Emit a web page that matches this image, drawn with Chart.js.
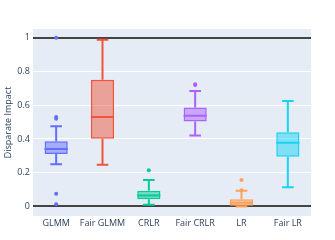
<!DOCTYPE html>
<html>
<head>
<meta charset="utf-8">
<script src="https://cdn.jsdelivr.net/npm/chart.js@4.4.0/dist/chart.umd.min.js"></script>
<style>
  html, body { margin: 0; padding: 0; background: #fff; }
  #wrap { width: 335px; height: 240px; }
</style>
</head>
<body>
<div id="wrap"><canvas id="chart"></canvas></div>
<script>
// box plot values
const categories = ['GLMM', 'Fair GLMM', 'CRLR', 'Fair CRLR', 'LR', 'Fair LR'];
const lowerWhisker = [0.25, 0.247, 0.01, 0.421, 0.0, 0.113];
const q1 = [0.31, 0.401, 0.042, 0.504, 0.004, 0.294];
const median = [0.34, 0.53, 0.065, 0.537, 0.022, 0.377];
const q3 = [0.387, 0.751, 0.093, 0.587, 0.042, 0.439];
const upperWhisker = [0.476, 0.988, 0.156, 0.684, 0.093, 0.625];
const outliers = [[1.0, 0.53, 0.52, 0.075, 0.012], [], [0.215], [0.724, 0.72], [0.156, 0.095], []];
const yTicks = [0, 0.2, 0.4, 0.6, 0.8, 1];

const colors = ['#636efa', '#EF553B', '#00cc96', '#ab63fa', '#FFA15A', '#19d3f3'];
const fills = ['rgba(99,110,250,0.5)', 'rgba(239,85,59,0.5)', 'rgba(0,204,150,0.5)',
  'rgba(171,99,250,0.5)', 'rgba(255,161,90,0.5)', 'rgba(25,211,243,0.5)'];

const FONT = "'Open Sans', 'DejaVu Sans', sans-serif";
const TXT = '#2a3f5f';

// points for outliers
const outlierPts = [];
const outlierCols = [];
outliers.forEach((arr, i) => {
  arr.forEach(v => {
    outlierPts.push({ x: categories[i], y: v });
    outlierCols.push(colors[i]);
  });
});

// plot background
const bgPlugin = {
  id: 'bg',
  beforeDraw(chart) {
    const { ctx, chartArea: a } = chart;
    ctx.save();
    ctx.fillStyle = '#E5ECF6';
    ctx.fillRect(a.left, a.top, a.right - a.left, a.bottom - a.top);
    ctx.restore();
  }
};

// whiskers, caps and medians
const whiskerPlugin = {
  id: 'whiskers',
  afterDatasetDraw(chart, args) {
    if (args.index !== 0) return;
    const { ctx } = chart;
    const x = chart.scales.x, y = chart.scales.y;
    const meta = chart.getDatasetMeta(0);
    ctx.save();
    ctx.lineWidth = 2;
    categories.forEach((c, i) => {
      const bar = meta.data[i];
      const cx = x.getPixelForValue(i);
      const half = bar.width / 2;
      const cap = half / 2;
      ctx.strokeStyle = colors[i];
      ctx.beginPath();
      // lower whisker
      ctx.moveTo(cx, y.getPixelForValue(q1[i]));
      ctx.lineTo(cx, y.getPixelForValue(lowerWhisker[i]));
      ctx.moveTo(cx - cap, y.getPixelForValue(lowerWhisker[i]));
      ctx.lineTo(cx + cap, y.getPixelForValue(lowerWhisker[i]));
      // upper whisker
      ctx.moveTo(cx, y.getPixelForValue(q3[i]));
      ctx.lineTo(cx, y.getPixelForValue(upperWhisker[i]));
      ctx.moveTo(cx - cap, y.getPixelForValue(upperWhisker[i]));
      ctx.lineTo(cx + cap, y.getPixelForValue(upperWhisker[i]));
      // median
      ctx.moveTo(cx - half, y.getPixelForValue(median[i]));
      ctx.lineTo(cx + half, y.getPixelForValue(median[i]));
      ctx.stroke();
    });
    ctx.restore();
  }
};

new Chart(document.getElementById('chart'), {
  data: {
    labels: categories,
    datasets: [
      {
        type: 'bar',
        data: categories.map((c, i) => [q1[i], q3[i]]),
        backgroundColor: fills,
        borderColor: colors,
        borderWidth: 1.5,
        borderSkipped: false,
        categoryPercentage: 1,
        barPercentage: 0.5,
        order: 2
      },
      {
        type: 'line',
        data: outlierPts,
        showLine: false,
        pointRadius: 2,
        pointBorderWidth: 0,
        pointBackgroundColor: outlierCols,
        pointBorderColor: outlierCols,
        order: 1
      }
    ]
  },
  options: {
    responsive: true,
    maintainAspectRatio: false,
    animation: false,
    layout: { padding: { top: 29, right: 24, left: 0, bottom: 0 } },
    plugins: { legend: { display: false }, tooltip: { enabled: false } },
    scales: {
      x: {
        type: 'category',
        grid: { display: false, drawTicks: false },
        border: { display: false },
        ticks: { color: TXT, font: { family: FONT, size: 9 }, padding: 2, maxRotation: 0, autoSkip: false },
        afterFit(s) { s.height = 24; }
      },
      y: {
        min: -0.057,
        max: 1.052,
        afterBuildTicks(s) { s.ticks = yTicks.map(v => ({ value: v })); },
        grid: {
          drawTicks: false,
          color: c => (c.tick && (c.tick.value === 0 || c.tick.value === 1)) ? '#444' : '#fff',
          lineWidth: c => (c.tick && (c.tick.value === 0 || c.tick.value === 1)) ? 2 : 1
        },
        border: { display: false },
        ticks: {
          color: TXT,
          font: { family: FONT, size: 9 },
          padding: 3,
          callback: v => String(Math.round(v * 10) / 10)
        },
        title: {
          display: true,
          text: 'Disparate Impact',
          color: TXT,
          font: { family: FONT, size: 9 },
          padding: { top: 3, bottom: 0 }
        },
        afterFit(s) { s.width = 33; }
      }
    }
  },
  plugins: [bgPlugin, whiskerPlugin]
});
</script>
</body>
</html>
